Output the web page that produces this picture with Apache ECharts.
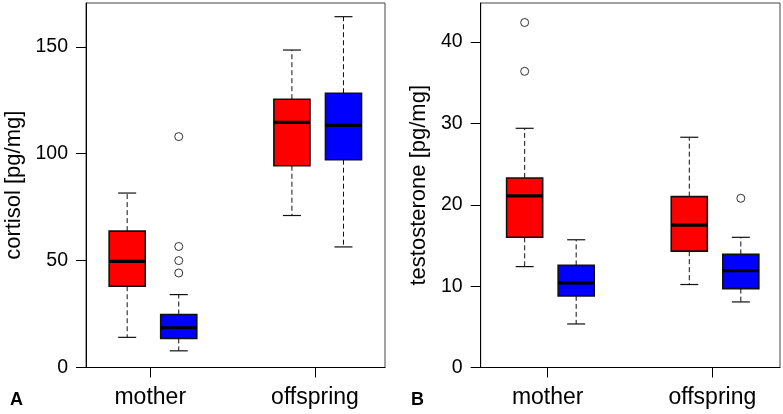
<!DOCTYPE html>
<html>
<head>
<meta charset="utf-8">
<script src="https://cdn.jsdelivr.net/npm/echarts@6/dist/echarts.min.js"></script>
<style>
html,body{margin:0;padding:0;background:#fff;}
#chart{width:783px;height:414px;}
</style>
</head>
<body>
<div id="chart"></div>
<script>
// ---- data ----
const groups = ['mother', 'offspring'];
// [lower whisker, Q1, median, Q3, upper whisker] per group
const cortisolRed  = [[14.1, 38.0, 49.6, 63.8, 81.6], [71.1, 94.4, 114.7, 125.5, 148.5]];
const cortisolBlue = [[7.8, 13.6, 18.6, 24.8, 34.1], [56.4, 97.2, 113.3, 128.3, 164.1]];
const cortisolRedOutliers  = [[], []];
const cortisolBlueOutliers = [[108.0, 56.6, 50.0, 44.2], []];
const testoRed  = [[12.4, 16.0, 21.1, 23.3, 29.4], [10.2, 14.3, 17.5, 21.0, 28.3]];
const testoBlue = [[5.35, 8.8, 10.4, 12.55, 15.7], [8.06, 9.7, 11.9, 13.9, 16.0]];
const testoRedOutliers  = [[42.4, 36.4], []];
const testoBlueOutliers = [[], [20.8]];
const cortisolTicks = [0, 50, 100, 150];
const testoTicks = [0, 10, 20, 30, 40];

// ---- layout/style ----
const RED = '#FF0000', BLUE = '#0000FF';
const OFF_RED = -0.14, OFF_BLUE = 0.173, BOX_W = 0.219;
const FONT = 'Liberation Sans, Arial, Helvetica, sans-serif';

function boxData(stats) {
  return stats.map((s, i) => [i + 1, ...s]);
}
function outlierData(outs, off) {
  const res = [];
  outs.forEach((arr, i) => arr.forEach(v => res.push([i + 1 + off, v])));
  return res;
}

function makeRender(off) {
  return function (params, api) {
    const x = api.value(0) + off;
    const v = [1, 2, 3, 4, 5].map(i => api.value(i));
    const w = api.size([BOX_W, 0])[0];
    const p = v.map(val => api.coord([x, val]));
    const cx = p[0][0];
    const color = api.visual('color');
    const dash = { stroke: '#111', lineWidth: 1, lineDash: [5, 3] };
    const solid = { stroke: '#111', lineWidth: 1.2 };
    return {
      type: 'group',
      children: [
        { type: 'line', shape: { x1: cx, y1: p[1][1], x2: cx, y2: p[0][1] }, style: dash },
        { type: 'line', shape: { x1: cx, y1: p[3][1], x2: cx, y2: p[4][1] }, style: dash },
        { type: 'line', shape: { x1: cx - w / 4, y1: p[0][1], x2: cx + w / 4, y2: p[0][1] }, style: solid },
        { type: 'line', shape: { x1: cx - w / 4, y1: p[4][1], x2: cx + w / 4, y2: p[4][1] }, style: solid },
        { type: 'rect', shape: { x: cx - w / 2, y: p[3][1], width: w, height: p[1][1] - p[3][1] },
          style: { fill: color, stroke: '#111', lineWidth: 1.6 } },
        { type: 'line', shape: { x1: cx - w / 2, y1: p[2][1], x2: cx + w / 2, y2: p[2][1] },
          style: { stroke: '#000', lineWidth: 3.2 } }
      ]
    };
  };
}

function xAxisCfg(gridIndex, min, max) {
  return {
    type: 'value', gridIndex, min, max,
    splitLine: { show: false },
    axisLine: { show: true, onZero: false, lineStyle: { color: '#000', width: 1 } },
    axisTick: { show: true, customValues: [1, 2], length: 10, lineStyle: { color: '#000' } },
    axisLabel: { show: true, customValues: [1, 2], margin: 19, fontSize: 23, color: '#000', fontFamily: FONT,
      formatter: v => groups[Math.round(v) - 1] }
  };
}
function yAxisCfg(gridIndex, max, interval, name, gap) {
  return {
    type: 'value', gridIndex, min: 0, max, interval,
    name, nameLocation: 'middle', nameGap: gap, nameRotate: 90,
    nameTextStyle: { fontSize: 22, color: '#000', fontFamily: FONT },
    splitLine: { show: false },
    axisLine: { show: true, lineStyle: { color: '#000', width: 1 } },
    axisTick: { show: true, length: 10, lineStyle: { color: '#000' } },
    axisLabel: { margin: 18, fontSize: 19.5, color: '#000', fontFamily: FONT,
      showMaxLabel: false }
  };
}

const outlierStyle = { color: 'rgba(0,0,0,0)', borderColor: '#000', borderWidth: 1 };

const chart = echarts.init(document.getElementById('chart'));
chart.setOption({
  animation: false,
  backgroundColor: '#fff',
  title: [
    { text: 'A', left: 5, top: 386, textStyle: { fontSize: 18, fontWeight: 'bold', color: '#000', fontFamily: FONT } },
    { text: 'B', left: 406, top: 386, textStyle: { fontSize: 18, fontWeight: 'bold', color: '#000', fontFamily: FONT } }
  ],
  grid: [
    { left: 86, right: 398, top: 3, bottom: 46.5, show: true, borderColor: '#444', borderWidth: 1, containLabel: false },
    { left: 480.7, right: 3, top: 3, bottom: 46.5, show: true, borderColor: '#444', borderWidth: 1, containLabel: false }
  ],
  xAxis: [xAxisCfg(0, 0.61, 2.425), xAxisCfg(1, 0.593, 2.411)],
  yAxis: [yAxisCfg(0, 170.5, 50, 'cortisol [pg/mg]', 61), yAxisCfg(1, 44.8, 10, 'testosterone [pg/mg]', 51)],
  series: [
    { type: 'custom', xAxisIndex: 0, yAxisIndex: 0, itemStyle: { color: RED }, renderItem: makeRender(OFF_RED),
      data: boxData(cortisolRed), encode: { x: 0, y: [1, 2, 3, 4, 5] }, clip: false },
    { type: 'custom', xAxisIndex: 0, yAxisIndex: 0, itemStyle: { color: BLUE }, renderItem: makeRender(OFF_BLUE),
      data: boxData(cortisolBlue), encode: { x: 0, y: [1, 2, 3, 4, 5] }, clip: false },
    { type: 'custom', xAxisIndex: 1, yAxisIndex: 1, itemStyle: { color: RED }, renderItem: makeRender(OFF_RED),
      data: boxData(testoRed), encode: { x: 0, y: [1, 2, 3, 4, 5] }, clip: false },
    { type: 'custom', xAxisIndex: 1, yAxisIndex: 1, itemStyle: { color: BLUE }, renderItem: makeRender(OFF_BLUE),
      data: boxData(testoBlue), encode: { x: 0, y: [1, 2, 3, 4, 5] }, clip: false },
    { type: 'scatter', xAxisIndex: 0, yAxisIndex: 0, symbol: 'circle', symbolSize: 8, itemStyle: outlierStyle,
      data: outlierData(cortisolRedOutliers, OFF_RED).concat(outlierData(cortisolBlueOutliers, OFF_BLUE)) },
    { type: 'scatter', xAxisIndex: 1, yAxisIndex: 1, symbol: 'circle', symbolSize: 8, itemStyle: outlierStyle,
      data: outlierData(testoRedOutliers, OFF_RED).concat(outlierData(testoBlueOutliers, OFF_BLUE)) }
  ]
});
</script>
</body>
</html>
